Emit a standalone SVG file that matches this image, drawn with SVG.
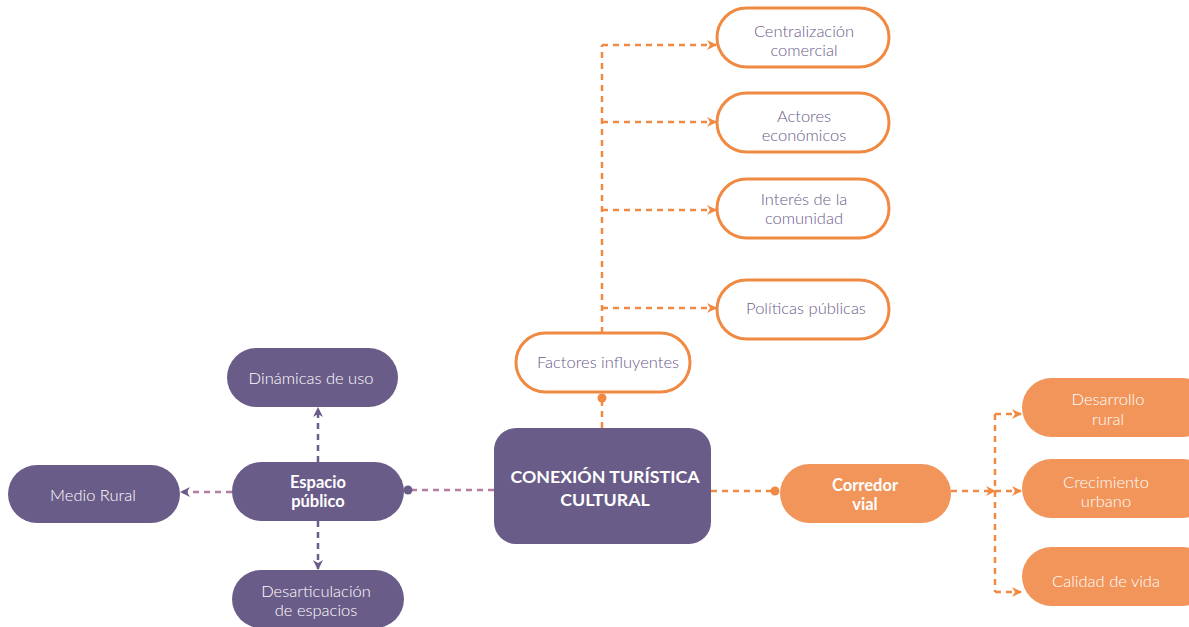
<svg xmlns="http://www.w3.org/2000/svg" width="1189" height="627" viewBox="0 0 1189 627">
<defs>
<style>
.t{font-family:"Lato","Liberation Sans",sans-serif;font-size:16.5px;font-weight:300;text-anchor:middle;}
.tp{fill:#6b5b8a;}
.tw{fill:#ffffff;}
.b{font-weight:bold;}
.c{font-size:17.8px;}
.wn{fill:#ffffff;stroke:#f08a43;stroke-width:3;}
.pn{fill:#6a5c88;}
.on{fill:#f1955a;}
.dO{fill:none;stroke:#f08a43;stroke-width:2.5;stroke-dasharray:6 5;}
.dP{fill:none;stroke:#6a5c88;stroke-width:2.5;stroke-dasharray:6 5;}
.dK{fill:none;stroke:#b27ea3;stroke-width:2.5;stroke-dasharray:6 5;}
</style>
<marker id="aO" viewBox="0 0 10 10" refX="9" refY="5" markerWidth="10" markerHeight="10" markerUnits="userSpaceOnUse" orient="auto"><path d="M0,0 L10,5 L0,10 L3,5 Z" fill="#f08a43"/></marker>
<marker id="aP" viewBox="0 0 10 10" refX="9" refY="5" markerWidth="10" markerHeight="10" markerUnits="userSpaceOnUse" orient="auto"><path d="M0,0 L10,5 L0,10 L3,5 Z" fill="#6a5c88"/></marker>
</defs>
<rect width="1189" height="627" fill="#ffffff"/>
<g id="connectors">
<path class="dO" d="M602,428 V398"/>
<circle cx="602" cy="398" r="4.5" fill="#f08a43"/>
<path class="dO" d="M602,333 V45"/>
<path class="dO" d="M602,45 H716" marker-end="url(#aO)"/>
<path class="dO" d="M602,122 H716" marker-end="url(#aO)"/>
<path class="dO" d="M602,210 H716" marker-end="url(#aO)"/>
<path class="dO" d="M602,308 H716" marker-end="url(#aO)"/>
<path class="dK" d="M494,490 H408"/>
<circle cx="408" cy="490" r="4.5" fill="#6a5c88"/>
<path class="dK" d="M232,492 H181" marker-end="url(#aP)"/>
<path class="dP" d="M318,462 V408" marker-end="url(#aP)"/>
<path class="dP" d="M318,521 V569" marker-end="url(#aP)"/>
<path class="dO" d="M711,491 H775"/>
<circle cx="775" cy="491" r="4.5" fill="#f08a43"/>
<path class="dO" d="M951,491 H995" marker-end="url(#aO)"/>
<path class="dO" d="M995,414 V592"/>
<path class="dO" d="M995,414 H1021" marker-end="url(#aO)"/>
<path class="dO" d="M995,491 H1021" marker-end="url(#aO)"/>
<path class="dO" d="M995,592 H1021" marker-end="url(#aO)"/>
</g>
<g id="n-center"><rect class="pn" x="494" y="428" width="217" height="116" rx="22"/>
<text class="t tw b c" x="605" y="483">CONEXIÓN TURÍSTICA</text>
<text class="t tw b c" x="605" y="506">CULTURAL</text></g>
<g id="n-factores"><rect class="wn" x="516" y="333" width="174" height="59" rx="29.5"/>
<text class="t tp" x="608" y="368">Factores influyentes</text></g>
<g id="n-centralizacion"><rect class="wn" x="717" y="8" width="172" height="59" rx="29.5"/>
<text class="t tp" x="804" y="37">Centralización</text><text class="t tp" x="804" y="56">comercial</text></g>
<g id="n-actores"><rect class="wn" x="717" y="93" width="172" height="59" rx="29.5"/>
<text class="t tp" x="804" y="122">Actores</text><text class="t tp" x="804" y="141">económicos</text></g>
<g id="n-interes"><rect class="wn" x="717" y="179" width="172" height="59" rx="29.5"/>
<text class="t tp" x="804" y="205">Interés de la</text><text class="t tp" x="804" y="224">comunidad</text></g>
<g id="n-politicas"><rect class="wn" x="717" y="280" width="172" height="59" rx="29.5"/>
<text class="t tp" x="806" y="314">Políticas públicas</text></g>
<g id="n-espacio"><rect class="pn" x="232" y="462" width="172" height="59" rx="29.5"/>
<text class="t tw b" x="318" y="488">Espacio</text><text class="t tw b" x="318" y="507">público</text></g>
<g id="n-dinamicas"><rect class="pn" x="227" y="348" width="171" height="59" rx="29.5"/>
<text class="t tw" x="311" y="384">Dinámicas de uso</text></g>
<g id="n-medio"><rect class="pn" x="8" y="465" width="172" height="58" rx="29"/>
<text class="t tw" x="93" y="501">Medio Rural</text></g>
<g id="n-desarticulacion"><rect class="pn" x="232" y="570" width="172" height="58" rx="29"/>
<text class="t tw" x="316" y="597">Desarticulación</text><text class="t tw" x="316" y="616">de espacios</text></g>
<g id="n-corredor"><rect class="on" x="780" y="464" width="171" height="59" rx="29.5"/>
<text class="t tw b" x="865" y="491">Corredor</text><text class="t tw b" x="865" y="510">vial</text></g>
<g id="n-desarrollo"><rect class="on" x="1022" y="378" width="190" height="59" rx="29.5"/>
<text class="t tw" x="1108" y="405">Desarrollo</text><text class="t tw" x="1108" y="425">rural</text></g>
<g id="n-crecimiento"><rect class="on" x="1022" y="459" width="190" height="59" rx="29.5"/>
<text class="t tw" x="1106" y="488">Crecimiento</text><text class="t tw" x="1106" y="507">urbano</text></g>
<g id="n-calidad"><rect class="on" x="1022" y="547" width="190" height="59" rx="29.5"/>
<text class="t tw" x="1106" y="587">Calidad de vida</text></g>
</svg>
